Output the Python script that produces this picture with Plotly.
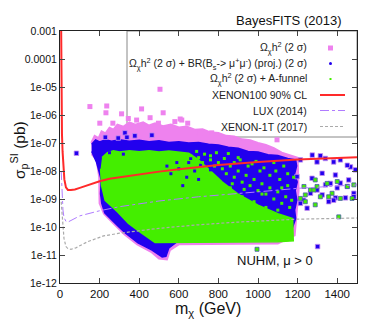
import plotly.graph_objects as go

# ---- data ----
# dense clouds (outline of each filled region)
pink_x = [158, 175, 195, 210, 230, 250, 270, 290, 320, 350, 380, 420, 450, 480, 520, 560, 600, 640, 680, 720, 760, 800,
          840, 880, 920, 960, 1000, 1040, 1080, 1120, 1200, 1205, 1185, 1100, 900, 700, 600, 555, 540, 500, 460, 390, 325,
          272, 222, 200, 198, 185, 160]
pink_y = [1e-7, 1.8e-7, 1.5e-7, 2.6e-7, 2.2e-7, 3.5e-7, 3e-7, 4.5e-7, 3.8e-7, 5.5e-7, 4.5e-7, 5.5e-7, 4.2e-7, 5e-7, 4e-7,
          4.6e-7, 3.6e-7, 3.9e-7, 3e-7, 3.1e-7, 2.4e-7, 2.3e-7, 1.8e-7, 1.7e-7, 1.35e-7, 1.25e-7, 1e-7, 8.5e-8, 6.5e-8,
          4.5e-8, 3e-8, 2e-9, 5e-11, 2.6e-11, 2.5e-11, 2.4e-11, 2.4e-11, 1.5e-11, 7e-12, 7.5e-12, 1.3e-11, 2.4e-11,
          5.5e-11, 1.3e-10, 3e-10, 7e-10, 6e-9, 2.5e-8, 4e-8]

blue_x = [160, 180, 200, 230, 260, 300, 350, 400, 450, 500, 550, 600, 650, 700, 750, 800, 850, 900, 950, 1000, 1050, 1100,
          1150, 1190, 1195, 1185, 1198, 1188, 1196, 1185, 1190, 1170, 1160, 1100, 900, 700, 600, 550, 535, 516, 465, 394,
          328, 277, 226, 211, 205, 208, 185, 160]
blue_y = [9e-8, 1.3e-7, 1.1e-7, 1.3e-7, 1.15e-7, 1.3e-7, 1.15e-7, 1.25e-7, 1.1e-7, 1.2e-7, 1.05e-7, 1.1e-7, 1e-7, 1.05e-7,
          9e-8, 8.5e-8, 7e-8, 6.5e-8, 5e-8, 4.8e-8, 3.8e-8, 3.6e-8, 2.8e-8, 2.5e-8, 1.5e-8, 8e-9, 4e-9, 2e-9, 9e-10, 4e-10,
          2e-10, 8e-11, 5e-11, 3.6e-11, 3.5e-11, 3.4e-11, 3.3e-11, 1.8e-11, 9e-12, 8.5e-12, 1.5e-11, 2.7e-11, 6.3e-11,
          1.4e-10, 3.2e-10, 7e-10, 1.5e-9, 5e-9, 2e-8, 5e-8]

green_x = [212, 240, 270, 300, 350, 400, 450, 500, 550, 600, 650, 700, 760, 820, 900, 1000, 1100, 1175, 1178, 1100, 900,
           700, 560, 480, 400, 346, 290, 228, 210, 205]
green_y = [3e-8, 4.5e-8, 5.3e-8, 4.8e-8, 5.3e-8, 4.9e-8, 5.3e-8, 4.8e-8, 5.2e-8, 4.6e-8, 4.3e-8, 2.5e-8, 1e-8, 4e-9,
           1.5e-9, 6e-10, 3e-10, 2e-10, 3.2e-11, 3e-11, 2.9e-11, 2.8e-11, 2.8e-11, 2.8e-11, 7e-11, 1.35e-10, 3.5e-10,
           9e-10, 3e-9, 1.2e-8]

# isolated points
pink_pts_x = [151, 236, 232, 311, 412, 505, 521, 387, 615, 645, 698, 766, 497, 201, 267, 607, 707, 1096, 345, 455, 580]
pink_pts_y = [2e-6, 2.1e-6, 1.2e-6, 1.1e-6, 1.65e-6, 8.3e-6, 1.2e-6, 6.6e-7, 6.6e-7, 5.1e-7, 2.5e-7, 2.3e-7, 5.1e-7,
              5.1e-7, 5.1e-7, 7.2e-7, 2.3e-7, 1.3e-7, 7.5e-7, 8e-7, 5.8e-7]

blue_pts_x = [83, 1214, 1274, 1315, 1382, 1416, 1467, 1492, 1451, 1391, 1416, 1341, 1451, 1391, 1442, 1382, 1484, 1230,
              1265, 1298, 1324, 1214, 1248, 1357, 1400, 1298, 1340, 1197, 1273, 1324, 1366, 1458, 1484, 1301,
              328, 338, 378, 464, 294, 229]
blue_pts_y = [4.3e-8, 2.5e-8, 3.7e-8, 3.5e-8, 2.1e-8, 2.5e-8, 1.4e-8, 1.1e-8, 1.6e-8, 7.2e-9, 3.7e-9, 3.2e-9, 2.8e-9,
              1.1e-9, 1.1e-9, 9e-10, 1.6e-9, 9e-10, 1.6e-9, 2.1e-9, 1.4e-9, 7e-10, 4.7e-10, 8e-10, 2.5e-9, 2.1e-8,
              2.8e-8, 6.3e-9, 5.5e-9, 8.3e-9, 3.6e-9, 4.8e-9, 1.2e-9, 2e-11,
              2.3e-7, 1.6e-7, 1.8e-7, 1.9e-7, 1.5e-7, 1.6e-7]

# blue specks inside the green cloud
blue_in_x = [600, 650, 560, 680, 620, 700, 760, 250, 320, 640, 590, 710, 660, 540]
blue_in_y = [1.2e-8, 2e-8, 8e-9, 1e-8, 3e-9, 5e-9, 1.1e-8, 4.5e-8, 4e-8, 6e-9, 2e-8, 1.6e-8, 2.8e-8, 1.5e-8]

# green specks inside the blue cloud
green_in_x = [660, 700, 720, 760, 780, 800, 820, 840, 860, 880, 900, 920, 940, 960, 980, 1000, 1020, 1040, 1060, 1080,
              1100, 1120, 1140, 1160, 1170, 740, 800, 860, 920, 980, 1040, 1100, 760, 830, 880, 950, 1010, 1060, 1110,
              1150, 1180, 1130, 1080, 990, 900, 690, 730, 790, 850, 910, 970, 1030, 1090, 1150, 870, 930, 1020, 1120]
green_in_y = [3.5e-8, 3e-8, 2e-8, 2.5e-8, 1.5e-8, 2e-8, 1.2e-8, 8e-9, 1.5e-8, 6e-9, 1e-8, 4e-9, 7e-9, 3e-9, 5e-9, 2e-9,
              3.5e-9, 1.5e-9, 2.5e-9, 1e-9, 1.8e-9, 7e-10, 1.2e-9, 5e-10, 9e-10, 6e-9, 4e-9, 2.5e-9, 1.2e-9, 8e-10,
              5e-10, 4e-10, 3.5e-8, 2.8e-8, 2e-8, 1.5e-8, 1e-8, 7e-9, 5e-9, 3e-9, 6e-9, 1.5e-8, 2e-8, 2.2e-8, 3e-8,
              5e-8, 4e-8, 4.5e-8, 4.2e-8, 2.5e-8, 1.8e-8, 1.3e-8, 1e-8, 8e-9, 3.5e-9, 2.2e-9, 1.5e-9, 2.5e-9]

# green points beyond the clouds
green_pts_x = [1232, 1239, 1298, 1265, 1289, 1315, 1374, 1416, 1475, 1239, 1214, 1408, 1349, 1400, 1451, 1484, 1289, 1282,
               1357, 995]
green_pts_y = [2.8e-9, 1.4e-9, 2.8e-9, 2.1e-9, 6.2e-10, 1.2e-9, 1.6e-9, 1.05e-9, 1.05e-9, 8e-10, 1.05e-9, 2.3e-10, 3.6e-9,
               4.2e-9, 2.8e-9, 3.2e-9, 4.8e-9, 2.1e-9, 1.2e-9, 1.6e-11]

# exclusion limits
xe100_x = [6, 7, 8, 10, 13, 17, 22, 30, 40, 55, 75, 100, 150, 200, 250, 300, 400, 500, 600, 700, 800, 1000, 1200, 1500]
xe100_y = [1e-3, 1e-5, 1e-6, 2e-7, 5e-8, 1.5e-8, 5e-9, 2.6e-9, 2.1e-9, 2.1e-9, 2.2e-9, 2.5e-9, 3.3e-9, 4.3e-9, 5.3e-9,
           6e-9, 7.5e-9, 9.5e-9, 1.15e-8, 1.4e-8, 1.65e-8, 2.1e-8, 2.6e-8, 3.1e-8]

lux_x = [6, 8, 10, 15, 20, 30, 40, 60, 100, 200, 300, 500, 700, 1000, 1200, 1500]
lux_y = [1e-8, 3e-9, 1.2e-9, 4e-10, 2.2e-10, 1.6e-10, 1.5e-10, 1.8e-10, 2.5e-10, 3.8e-10, 5.3e-10, 8.5e-10, 1.2e-9,
         1.8e-9, 2.4e-9, 3.2e-9]

xe1t_x = [6, 10, 15, 20, 30, 40, 55, 80, 140, 220, 300, 500, 700, 900, 1200, 1500]
xe1t_y = [8e-10, 3e-10, 9e-11, 4e-11, 2e-11, 1.7e-11, 1.6e-11, 1.8e-11, 3e-11, 4.8e-11, 6e-11, 9e-11, 1.2e-10, 1.5e-10,
          1.9e-10, 2.1e-10]

y_ticks = [1e-12, 1e-11, 1e-10, 1e-9, 1e-8, 1e-7, 1e-6, 1e-5, 1e-4, 1e-3]
y_ticktext = ["1e-12", "1e-11", "1e-10", "1e-09", "1e-08", "1e-07", "1e-06", "1e-05", "0.0001", "0.001"]
x_ticks = [0, 200, 400, 600, 800, 1000, 1200, 1400]

legend_labels = [
    "Ω<sub>χ</sub>h<sup>2</sup> (2 σ)",
    "Ω<sub>χ</sub>h<sup>2</sup> (2 σ) + BR(B<sub>s</sub>-> μ<sup>+</sup>μ<sup>-</sup>) (proj.) (2 σ)",
    "Ω<sub>χ</sub>h<sup>2</sup> (2 σ) + A-funnel",
    "XENON100 90% CL",
    "LUX (2014)",
    "XENON-1T (2017)",
]

PINK = "#ee82ee"
BLUE = "#2200ee"
GREEN = "#44ee00"
RED = "#ff2a2a"
LUXC = "#b07cff"
GREY = "#aaaaaa"
FONT = "Liberation Sans, Arial, sans-serif"

fig = go.Figure()

# pink
fig.add_trace(go.Scatter(x=pink_x, y=pink_y, mode="lines", fill="toself", fillcolor=PINK,
                         line=dict(color=PINK, width=2), hoverinfo="skip"))
fig.add_trace(go.Scatter(x=pink_pts_x, y=pink_pts_y, mode="markers",
                         marker=dict(symbol="square", size=5, color=PINK, line=dict(width=0))))
# blue
fig.add_trace(go.Scatter(x=blue_x, y=blue_y, mode="lines", fill="toself", fillcolor=BLUE,
                         line=dict(color=BLUE, width=1.5), hoverinfo="skip"))
fig.add_trace(go.Scatter(x=blue_pts_x, y=blue_pts_y, mode="markers",
                         marker=dict(symbol="square", size=4.5, color=BLUE, line=dict(width=0.8, color="#c890f0"))))
# green
fig.add_trace(go.Scatter(x=green_x, y=green_y, mode="lines", fill="toself", fillcolor=GREEN,
                         line=dict(color=GREEN, width=1.5), hoverinfo="skip"))
fig.add_trace(go.Scatter(x=blue_in_x, y=blue_in_y, mode="markers",
                         marker=dict(symbol="square", size=3, color=BLUE, line=dict(width=0))))
fig.add_trace(go.Scatter(x=green_in_x, y=green_in_y, mode="markers",
                         marker=dict(symbol="square", size=3, color=GREEN, line=dict(width=0))))
fig.add_trace(go.Scatter(x=green_pts_x, y=green_pts_y, mode="markers",
                         marker=dict(symbol="square", size=4, color=GREEN, line=dict(width=0.8, color="#4a5ab0"))))

# limits
fig.add_trace(go.Scatter(x=xe100_x, y=xe100_y, mode="lines", line=dict(color=RED, width=2)))
fig.add_trace(go.Scatter(x=lux_x, y=lux_y, mode="lines", line=dict(color=LUXC, width=1, dash="dashdot")))
fig.add_trace(go.Scatter(x=xe1t_x, y=xe1t_y, mode="lines", line=dict(color=GREY, width=1.2, dash="3px,2px")))

# the page body has an 8px margin, so the figure is 8px smaller and every
# position below is given in window pixels: plot area x 60..357, y 31..283
def px(x):
    return (x - 60) / 297.0

def py(y):
    return (283 - y) / 252.0

# key box: border only, points show through it
shapes = [dict(type="rect", xref="paper", yref="paper", x0=px(127), x1=1, y0=py(137), y1=1,
               fillcolor="rgba(0,0,0,0)", line=dict(color="#888888", width=1), layer="below")]
annotations = []
rows = [48, 63.5, 79, 95, 110.5, 126.5]
for lab, r in zip(legend_labels, rows):
    annotations.append(dict(text=lab, x=px(309), y=py(r), xref="paper", yref="paper", xanchor="right",
                            yanchor="middle", showarrow=False, font=dict(size=10.5, color="#222", family=FONT)))
# legend keys
shapes.append(dict(type="rect", xref="paper", yref="paper", x0=px(328), x1=px(333), y0=py(rows[0] + 2.5),
                   y1=py(rows[0] - 2.5), fillcolor=PINK, line=dict(width=0), layer="above"))
shapes.append(dict(type="circle", xref="paper", yref="paper", x0=px(329), x1=px(332), y0=py(rows[1] + 1.5),
                   y1=py(rows[1] - 1.5), fillcolor=BLUE, line=dict(width=0), layer="above"))
shapes.append(dict(type="rect", xref="paper", yref="paper", x0=px(329.5), x1=px(331.5), y0=py(rows[2] + 1),
                   y1=py(rows[2] - 1), fillcolor=GREEN, line=dict(width=0), layer="above"))
shapes.append(dict(type="line", xref="paper", yref="paper", x0=px(320), x1=px(345), y0=py(rows[3]), y1=py(rows[3]),
                   line=dict(color=RED, width=2), layer="above"))
shapes.append(dict(type="line", xref="paper", yref="paper", x0=px(320), x1=px(345), y0=py(rows[4]), y1=py(rows[4]),
                   line=dict(color=LUXC, width=1, dash="dashdot"), layer="above"))
shapes.append(dict(type="line", xref="paper", yref="paper", x0=px(320), x1=px(345), y0=py(rows[5]), y1=py(rows[5]),
                   line=dict(color=GREY, width=1.2, dash="3px,2px"), layer="above"))

annotations += [
    dict(text="BayesFITS (2013)", x=px(344), y=py(21), xref="paper", yref="paper", xanchor="right", yanchor="middle",
         showarrow=False, font=dict(size=13, color="#111", family=FONT)),
    dict(text="NUHM, μ > 0", x=px(275), y=py(260), xref="paper", yref="paper", xanchor="center", yanchor="middle",
         showarrow=False, font=dict(size=13, color="#111", family=FONT)),
    dict(text="m<sub>χ</sub> (GeV)", x=px(208), y=py(309), xref="paper", yref="paper", xanchor="center",
         yanchor="middle", showarrow=False, font=dict(size=16, color="#111", family=FONT)),
    dict(text="σ<sub>p</sub><sup>SI</sup> (pb)", x=px(19), y=py(150), xref="paper", yref="paper", xanchor="center",
         yanchor="middle", textangle=-90, showarrow=False, font=dict(size=15.5, color="#111", family=FONT)),
]

fig.update_layout(
    width=366, height=319,
    margin=dict(l=52, r=17, t=23, b=44, autoexpand=False),
    paper_bgcolor="white", plot_bgcolor="white",
    showlegend=False,
    shapes=shapes, annotations=annotations,
    font=dict(family=FONT, color="#111"),
)
fig.update_xaxes(range=[0, 1500], tickvals=x_ticks, ticks="inside", ticklen=5, showgrid=False, zeroline=False,
                 showline=True, linecolor="#222", linewidth=1, mirror="ticks", tickfont=dict(size=11.5),
                 automargin=False)
fig.update_yaxes(type="log", range=[-12, -3], tickvals=y_ticks, ticktext=y_ticktext, ticks="inside", ticklen=5,
                 showgrid=False, zeroline=False, showline=True, linecolor="#222", linewidth=1, mirror="ticks",
                 tickfont=dict(size=10.5), automargin=False)

fig.write_html("out.html")
